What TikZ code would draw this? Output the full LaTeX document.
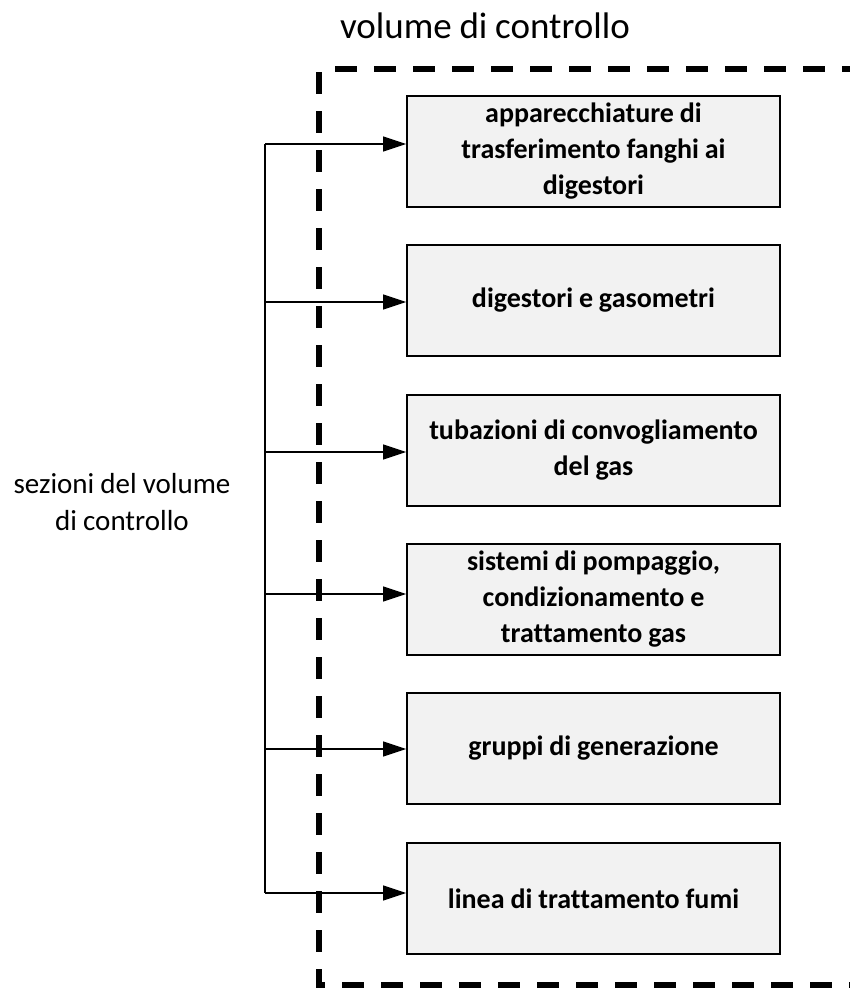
\documentclass[tikz,border=0pt]{standalone}
\usepackage{fontspec}
\setmainfont{Carlito}[Ligatures=NoCommon]
\usetikzlibrary{arrows.meta}
\newcommand{\tightsp}{\spaceskip=0.21em\relax\xspaceskip=0.21em\relax}
\begin{document}
\begin{tikzpicture}[x=1pt,y=-1pt,
  box/.style={draw=black,line width=1.8pt,fill=black!5,minimum width=373pt,minimum height=111pt,
    inner sep=0pt,text width=370pt,align=center,font=\bfseries\fontsize{28}{36}\selectfont,
    execute at begin node=\tightsp},
  conn/.style={line width=1.3pt,-{Triangle[length=23pt,width=15pt]}},
  trunk/.style={line width=1.3pt},
  vol/.style={line width=6.5pt,dash pattern=on 22pt off 17pt}]
\clip (0,0) rectangle (850,990);
\useasboundingbox (0,0) rectangle (850,990);
% dashed control volume
\draw[vol] (335,69) -- (880,69);
\draw[vol] (319,72) -- (319,985) -- (880,985);
% title and label
\node[font=\fontsize{37}{44}\selectfont\tightsp,anchor=base] (title) at (485,38) {volume di controllo};
\node[font=\fontsize{29}{37}\selectfont,align=center,execute at begin node=\tightsp] (lab) at (122,502) {sezioni del volume\\di controllo};
% boxes
\node[box] (b1) at (593.5,151.5) {apparecchiature di\\trasferimento fanghi ai\\digestori};
\node[box] (b2) at (593.5,300.5) {digestori e gasometri};
\node[box] (b3) at (593.5,450.5) {tubazioni di convogliamento\\del gas};
\node[box] (b4) at (593.5,599.5) {sistemi di pompaggio,\\condizionamento e\\trattamento gas};
\node[box] (b5) at (593.5,748.5) {gruppi di generazione};
\node[box] (b6) at (593.5,898.5) {linea di trattamento fumi};
% trunk
\coordinate (t1) at (265,144);
\coordinate (t2) at (265,302);
\coordinate (t3) at (265,452);
\coordinate (t4) at (265,594);
\coordinate (t5) at (265,749);
\coordinate (t6) at (265,893);
\draw[trunk] (t1) -- (t6);
\draw[conn] (t1) -- (t1 -| b1.west);
\draw[conn] (t2) -- (t2 -| b2.west);
\draw[conn] (t3) -- (t3 -| b3.west);
\draw[conn] (t4) -- (t4 -| b4.west);
\draw[conn] (t5) -- (t5 -| b5.west);
\draw[conn] (t6) -- (t6 -| b6.west);
\end{tikzpicture}
\end{document}
